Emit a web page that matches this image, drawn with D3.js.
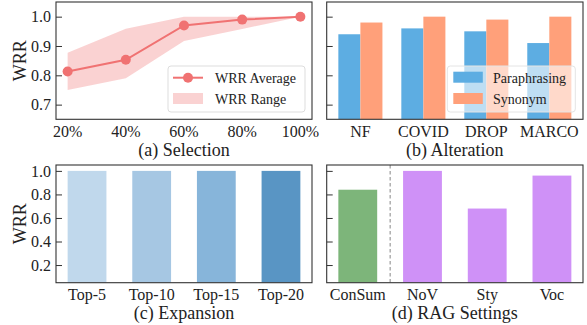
<!DOCTYPE html>
<html>
<head>
<meta charset="utf-8">
<script src="https://cdn.jsdelivr.net/npm/d3@7"></script>
<style>
body { margin: 0; background: #fff; }
</style>
</head>
<body>
<div id="chart"></div>
<script>
const width = 587
const height = 325
const font = "'Liberation Serif'"

// (a) Selection
const sel_labels = ['20%', '40%', '60%', '80%', '100%']
const sel_avg = [0.813, 0.853, 0.970, 0.990, 1.000]
const sel_low = [0.750, 0.790, 0.917, 0.958, 1.000]
const sel_high = [0.877, 0.959, 1.000, 1.000, 1.000]

// (b) Alteration
const alt_labels = ['NF', 'COVID', 'DROP', 'MARCO']
const alt_para = [0.94, 0.96, 0.95, 0.91]
const alt_syn = [0.98, 1.00, 0.99, 1.00]

// (c) Expansion
const exp_labels = ['Top-5', 'Top-10', 'Top-15', 'Top-20']
const exp_values = [1.0, 1.0, 1.0, 1.0]
const exp_colors = ['#c0d8ec', '#a6c7e3', '#87b5da', '#5995c4']

// (d) RAG Settings
const rag_labels = ['ConSum', 'NoV', 'Sty', 'Voc']
const rag_values = [0.84, 1.00, 0.68, 0.96]

const top_ticks = [0.7, 0.8, 0.9, 1.0]
const bottom_ticks = [0.2, 0.4, 0.6, 0.8, 1.0]

const color_line = '#f07272'
const color_para = '#5dade2'
const color_syn = '#ffa07a'
const color_green = '#7db57a'
const color_purple = '#cf91f7'

const svg = d3.select('#chart').append('svg')
    .attr('width', width)
    .attr('height', height)

const cols = [[56, 312], [326.7, 583]]
const rows = [[2, 119.3], [165, 282.7]]

function label(sel, size) {
    return sel.style('font-family', font).attr('font-size', size).attr('fill', '#222')
}

function panel(col, row, xdom, ydom) {
    const x = d3.scaleLinear().domain(xdom).range(cols[col])
    const y = d3.scaleLinear().domain(ydom).range([rows[row][1], rows[row][0]])
    const g = svg.append('g')
    const id = `clip_${col}_${row}`
    svg.append('clipPath').attr('id', id).append('rect')
        .attr('x', cols[col][0]).attr('y', rows[row][0])
        .attr('width', cols[col][1] - cols[col][0])
        .attr('height', rows[row][1] - rows[row][0])
    const plot = g.append('g').attr('clip-path', `url(#${id})`)
    return {x, y, g, plot}
}

function frame(p, ticks, showLabels, xlabels, caption, ylabel) {
    const [x0, x1] = p.x.range()
    const [y1, y0] = p.y.range()
    // y ticks, inside
    const yAxis = d3.axisLeft(p.y).tickValues(ticks).tickSizeInner(-6).tickSizeOuter(0)
        .tickPadding(5).tickFormat(showLabels ? d3.format('.1f') : '')
    const ga = p.g.append('g').attr('transform', `translate(${x0},0)`).call(yAxis)
    ga.select('.domain').remove()
    ga.selectAll('line').attr('stroke', '#333').attr('stroke-width', 1)
    label(ga.selectAll('text'), 16)
    // x tick labels
    label(p.g.selectAll(null).data(xlabels).enter().append('text'), 16)
        .attr('x', (_, i) => p.x(i))
        .attr('y', y1 + 17.5)
        .attr('text-anchor', 'middle')
        .text(d => d)
    label(p.g.append('text'), 18)
        .attr('x', (x0 + x1) / 2)
        .attr('y', y1 + 36.5)
        .attr('text-anchor', 'middle')
        .text(caption)
    if (ylabel) {
        label(p.g.append('text'), 18)
            .attr('transform', `translate(26,${(y0 + y1) / 2}) rotate(-90)`)
            .attr('text-anchor', 'middle')
            .text(ylabel)
    }
    p.g.append('rect')
        .attr('x', x0).attr('y', y0)
        .attr('width', x1 - x0).attr('height', y1 - y0)
        .attr('fill', 'none').attr('stroke', '#333').attr('stroke-width', 1.1)
}

/* (a) */
const pa = panel(0, 0, [-0.2, 4.2], [0.65, 1.05])
const area = d3.area()
    .x((_, i) => pa.x(i))
    .y0((_, i) => pa.y(sel_low[i]))
    .y1((_, i) => pa.y(sel_high[i]))
pa.plot.append('path').datum(sel_avg).attr('d', area)
    .attr('fill', color_line).attr('fill-opacity', 0.32)
const line = d3.line().x((_, i) => pa.x(i)).y(d => pa.y(d))
pa.plot.append('path').datum(sel_avg).attr('d', line)
    .attr('fill', 'none').attr('stroke', color_line).attr('stroke-width', 2)
pa.g.selectAll('.pt').data(sel_avg).enter().append('circle')
    .attr('cx', (_, i) => pa.x(i)).attr('cy', d => pa.y(d)).attr('r', 5)
    .attr('fill', color_line)
frame(pa, top_ticks, true, sel_labels, '(a) Selection', 'WRR')

// legend a
const la = pa.g.append('g')
la.append('rect').attr('x', 168).attr('y', 66).attr('width', 137).attr('height', 46).attr('rx', 3)
    .attr('fill', '#fff').attr('fill-opacity', 0.8).attr('stroke', '#ddd')
la.append('line').attr('x1', 173).attr('x2', 203).attr('y1', 77.7).attr('y2', 77.7)
    .attr('stroke', color_line).attr('stroke-width', 2)
la.append('circle').attr('cx', 188).attr('cy', 77.7).attr('r', 5).attr('fill', color_line)
label(la.append('text'), 14).attr('x', 215).attr('y', 82.5).text('WRR Average')
la.append('rect').attr('x', 173).attr('y', 93).attr('width', 30).attr('height', 11)
    .attr('fill', color_line).attr('fill-opacity', 0.32)
label(la.append('text'), 14).attr('x', 215).attr('y', 103.5).text('WRR Range')

/* (b) */
const pb = panel(1, 0, [-0.535, 3.535], [0.65, 1.05])
const bw = 0.35
pb.plot.selectAll('.para').data(alt_para).enter().append('rect')
    .attr('x', (_, i) => pb.x(i - bw))
    .attr('width', pb.x(bw) - pb.x(0))
    .attr('y', d => pb.y(d))
    .attr('height', d => pb.y(0.65) - pb.y(d))
    .attr('fill', color_para)
pb.plot.selectAll('.syn').data(alt_syn).enter().append('rect')
    .attr('x', (_, i) => pb.x(i))
    .attr('width', pb.x(bw) - pb.x(0))
    .attr('y', d => pb.y(d))
    .attr('height', d => pb.y(0.65) - pb.y(d))
    .attr('fill', color_syn)
frame(pb, top_ticks, false, alt_labels, '(b) Alteration', null)

const lb = pb.g.append('g')
lb.append('rect').attr('x', 447.3).attr('y', 66).attr('width', 128).attr('height', 46).attr('rx', 3)
    .attr('fill', '#fff').attr('fill-opacity', 0.6).attr('stroke', '#e4e4e4')
lb.append('rect').attr('x', 453.3).attr('y', 71.7).attr('width', 29.5).attr('height', 11)
    .attr('fill', color_para)
label(lb.append('text'), 14).attr('x', 493).attr('y', 82.5).text('Paraphrasing')
lb.append('rect').attr('x', 453.3).attr('y', 93).attr('width', 29.5).attr('height', 11)
    .attr('fill', color_syn)
label(lb.append('text'), 14).attr('x', 493).attr('y', 103.5).text('Synonym')

/* (c) */
const pc = panel(0, 1, [-0.48, 3.48], [0.05, 1.05])
pc.plot.selectAll('.bar').data(exp_values).enter().append('rect')
    .attr('x', (_, i) => pc.x(i - 0.3))
    .attr('width', pc.x(0.6) - pc.x(0))
    .attr('y', d => pc.y(d))
    .attr('height', d => pc.y(0.05) - pc.y(d))
    .attr('fill', (_, i) => exp_colors[i])
frame(pc, bottom_ticks, true, exp_labels, '(c) Expansion', 'WRR')

/* (d) */
const pd = panel(1, 1, [-0.48, 3.48], [0.05, 1.05])
pd.plot.selectAll('.bar').data(rag_values).enter().append('rect')
    .attr('x', (_, i) => pd.x(i - 0.3))
    .attr('width', pd.x(0.6) - pd.x(0))
    .attr('y', d => pd.y(d))
    .attr('height', d => pd.y(0.05) - pd.y(d))
    .attr('fill', (_, i) => i === 0 ? color_green : color_purple)
pd.plot.append('line')
    .attr('x1', pd.x(0.5)).attr('x2', pd.x(0.5))
    .attr('y1', pd.y(1.05)).attr('y2', pd.y(0.05))
    .attr('stroke', '#777').attr('stroke-width', 0.9).attr('stroke-dasharray', '3.5,2.5')
frame(pd, bottom_ticks, false, rag_labels, '(d) RAG Settings', null)
</script>
</body>
</html>
